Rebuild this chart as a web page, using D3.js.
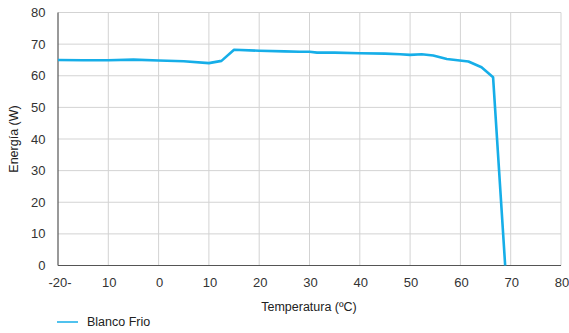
<!DOCTYPE html>
<html>
<head>
<meta charset="utf-8">
<script src="https://cdn.jsdelivr.net/npm/d3@7"></script>
<style>
  html, body { margin: 0; padding: 0; background: #ffffff; }
  svg { display: block; }
</style>
</head>
<body>
<svg id="chart" width="569" height="333"></svg>
<script>
const temps = [-20, -15, -10, -5, 0, 5, 10, 12.5, 15, 20, 25, 28, 30, 31.5, 35, 40, 45, 48, 50, 52.3, 54.6, 57.3, 61.6, 64.2, 66.5, 68.9];
const power = [65.0, 64.9, 64.9, 65.1, 64.8, 64.6, 64.0, 64.7, 68.2, 67.9, 67.7, 67.6, 67.6, 67.3, 67.3, 67.1, 67.0, 66.8, 66.6, 66.8, 66.4, 65.3, 64.5, 62.7, 59.5, 0];
const xTicks = [-20, -10, 0, 10, 20, 30, 40, 50, 60, 70, 80];
const xTickLabels = ['-20-', '10', '0', '10', '20', '30', '40', '50', '60', '70', '80'];
const yTicks = [0, 10, 20, 30, 40, 50, 60, 70, 80];
const seriesName = 'Blanco Frio';

const FONT = 'Liberation Sans, Arial, sans-serif';
const LINE = '#16aee8';
const margin = { left: 58, right: 8, top: 12.5, bottom: 67.5 };
const W = 569, H = 333;

const svg = d3.select('#chart');
const x = d3.scaleLinear().domain([-20, 80]).range([margin.left, W - margin.right]);
const y = d3.scaleLinear().domain([0, 80]).range([H - margin.bottom, margin.top]);

// grid
svg.append('g').selectAll('line').data(xTicks.slice(1)).join('line')
  .attr('x1', d => x(d)).attr('x2', d => x(d))
  .attr('y1', y(80)).attr('y2', y(0))
  .attr('stroke', '#d3d3d3').attr('stroke-width', 1);
svg.append('g').selectAll('line').data(yTicks.slice(1)).join('line')
  .attr('x1', x(-20)).attr('x2', x(80))
  .attr('y1', d => y(d)).attr('y2', d => y(d))
  .attr('stroke', '#d3d3d3').attr('stroke-width', 1);

// axes lines
svg.append('line').attr('x1', x(-20)).attr('x2', x(-20)).attr('y1', y(80)).attr('y2', y(0))
  .attr('stroke', '#555').attr('stroke-width', 1.2);
svg.append('line').attr('x1', x(-20)).attr('x2', x(80)).attr('y1', y(0)).attr('y2', y(0))
  .attr('stroke', '#555').attr('stroke-width', 1.2);

// tick labels
svg.append('g').selectAll('text').data(yTicks).join('text')
  .attr('x', 45.5).attr('y', d => y(d))
  .attr('text-anchor', 'end').attr('dominant-baseline', 'central')
  .attr('font-family', FONT).attr('font-size', 13).attr('fill', '#333')
  .text(d => d);
svg.append('g').selectAll('text').data(xTicks).join('text')
  .attr('x', (d, i) => x(d) + (i === 0 ? 2 : 1)).attr('y', 287)
  .attr('text-anchor', 'middle')
  .attr('font-family', FONT).attr('font-size', 13).attr('fill', '#333')
  .text((d, i) => xTickLabels[i]);

// axis titles
svg.append('text').attr('x', 309).attr('y', 311)
  .attr('text-anchor', 'middle').attr('font-family', FONT).attr('font-size', 12.5).attr('fill', '#222')
  .text('Temperatura (ºC)');
svg.append('text').attr('transform', `translate(18, ${(y(0) + y(80)) / 2}) rotate(-90)`)
  .attr('text-anchor', 'middle').attr('font-family', FONT).attr('font-size', 12.5).attr('fill', '#222')
  .text('Energía (W)');

// series
const pts = temps.map((t, i) => [t, power[i]]);
svg.append('path').datum(pts)
  .attr('d', d3.line().x(d => x(d[0])).y(d => y(d[1])))
  .attr('fill', 'none').attr('stroke', LINE).attr('stroke-width', 2.6)
  .attr('stroke-linejoin', 'round');

// legend
svg.append('line').attr('x1', 57).attr('x2', 78).attr('y1', 322).attr('y2', 322)
  .attr('stroke', LINE).attr('stroke-width', 1.5);
svg.append('text').attr('x', 87).attr('y', 322).attr('dominant-baseline', 'central')
  .attr('font-family', FONT).attr('font-size', 12.5).attr('fill', '#222')
  .text(seriesName);
</script>
</body>
</html>
